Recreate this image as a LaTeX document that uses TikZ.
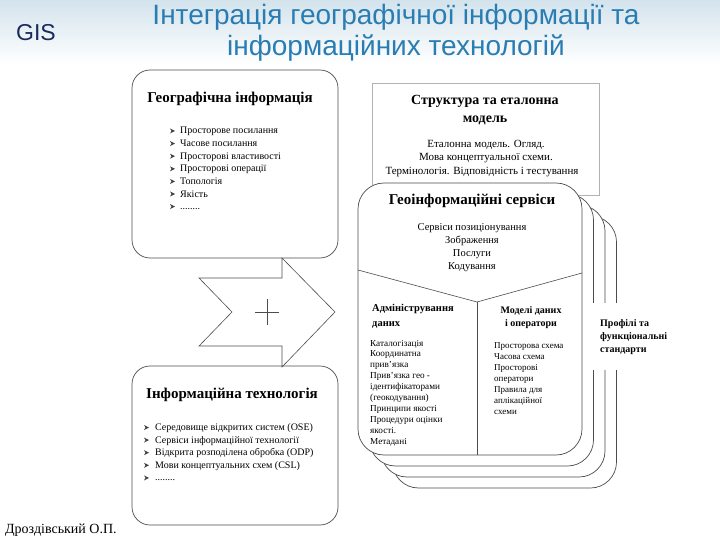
\documentclass[tikz,border=0pt]{standalone}
\usepackage{fontspec}
\setmainfont{Liberation Serif}
\newfontfamily\headfont{Liberation Sans}
\definecolor{hdr}{HTML}{D3E3EC}
\definecolor{titleblue}{HTML}{2A7DB3}
\definecolor{gisnavy}{HTML}{1B2A5C}
\newcommand{\mydots}{........}
\begin{document}
\begin{tikzpicture}[x=1pt,y=-1pt,
  box/.style={draw=black!70, line width=0.7pt, fill=white},
  txt/.style={inner sep=0pt, anchor=base west},
  ctxt/.style={inner sep=0pt, anchor=base},
  bigtitle/.style={ctxt, font=\fontsize{15}{17}\selectfont\bfseries},
  item/.style={txt, font=\fontsize{10}{12}\selectfont},
  small/.style={txt, font=\fontsize{9.2}{10}\selectfont},
  sub/.style={txt, font=\fontsize{10.5}{12}\selectfont\bfseries}]
\useasboundingbox (0,0) rectangle (720,540);
\shade[top color=hdr, bottom color=white] (0,0) rectangle (720,64);
% header
\node[txt, font=\headfont\fontsize{23}{25}\selectfont, text=gisnavy] (gis) at (16,41) {GIS};
\node[ctxt, font=\headfont\fontsize{28}{30}\selectfont, text=titleblue] (t1) at (396,25) {Інтеграція географічної інформації та};
\node[ctxt, font=\headfont\fontsize{28}{30}\selectfont, text=titleblue] (t2) at (396,56) {інформаційних технологій};
% left boxes
\draw[box, rounded corners=18] (132,70) rectangle (338,258);
\draw[box, rounded corners=18] (132,366) rectangle (338,525);
\node[bigtitle] (geo) at (230,103) {Географічна інформація};
\foreach \t [count=\i] in {Просторове посилання, Часове посилання, Просторові властивості, Просторові операції, Топологія, Якість, {\mydots}}{
  \pgfmathsetmacro{\yy}{134+12.6*(\i-1)}
  \fill[black!75] (170,\yy-5.5) -- (175,\yy-3) -- (170,\yy-0.5) -- (171.5,\yy-3) -- cycle;
  \node[item] (gi\i) at (180,\yy) {\t};
}
\node[bigtitle] (it) at (232,398) {Інформаційна технологія};
\foreach \t [count=\i] in {Середовище відкритих систем (OSE), Сервіси інформаційної технології, Відкрита розподілена обробка (ODP), Мови концептуальних схем (CSL), {\mydots}}{
  \pgfmathsetmacro{\yy}{430.5+12.6*(\i-1)}
  \fill[black!75] (144,\yy-5.5) -- (149,\yy-3) -- (144,\yy-0.5) -- (145.5,\yy-3) -- cycle;
  \node[item] (ii\i) at (155,\yy) {\t};
}
% arrow
\draw[black!70, line width=0.6pt] (199,278) -- (282,278) -- (282,258) -- (335,312) -- (282,367) -- (282,346) -- (199,346) -- (232,312) -- cycle;
\draw[black!70, line width=0.6pt] (255,312) -- (279,312) (267,299) -- (267,325);
% structure box
\draw[draw=gray!60, line width=0.8pt, fill=white] (372,83) rectangle (599,195);
\node[ctxt, font=\fontsize{14}{16}\selectfont\bfseries] (st1) at (485,105) {Структура та еталонна};
\node[ctxt, font=\fontsize{14}{16}\selectfont\bfseries] (st2) at (485,123) {модель};
\node[ctxt, font=\fontsize{11}{13}\selectfont] (st3) at (486,147.5) {Еталонна модель. Огляд.};
\node[ctxt, font=\fontsize{11}{13}\selectfont] (st4) at (486,161) {Мова концептуальної схеми.};
\node[ctxt, font=\fontsize{11}{13}\selectfont] (st5) at (482,174.5) {Термінологія. Відповідність і тестування};
% geo services stack
\foreach \i in {3,2,1}
  \draw[box, rounded corners=26] ({358+11.5*\i},{183+11*\i}) rectangle ({582+11.5*\i},{455+11*\i});
\draw[box, rounded corners=26] (358,183) rectangle (582,455);
\draw[black!70, line width=0.6pt] (358,270) -- (477,302) -- (582,273);
\draw[black!70, line width=0.6pt] (477,302) -- (477,455);
\node[bigtitle] (gs) at (472,205) {Геоінформаційні сервіси};
\foreach \t [count=\i] in {Сервіси позиціонування, Зображення, Послуги, Кодування}{
  \pgfmathsetmacro{\yy}{230.5+13*(\i-1)}
  \node[ctxt, font=\fontsize{10.5}{12}\selectfont] (gs\i) at (472,\yy) {\t};
}
\node[sub] (adm1) at (372,311) {Адміністрування};
\node[sub] (adm2) at (372,326) {даних};
\foreach \t [count=\i] in {Каталогізація, Координатна, прив'язка, Прив'язка гео -, ідентифікаторами, (геокодування), Принципи якості, Процедури оцінки, якості., Метадані}{
  \pgfmathsetmacro{\yy}{346+10.9*(\i-1)}
  \node[small] (ad\i) at (370,\yy) {\t};
}
\node[ctxt, font=\fontsize{10}{12}\selectfont\bfseries] (md1) at (531,313) {Моделі даних};
\node[ctxt, font=\fontsize{10}{12}\selectfont\bfseries] (md2) at (531,326) {і оператори};
\foreach \t [count=\i] in {Просторова схема, Часова схема, Просторові, оператори, Правила для, аплікаційної, схеми}{
  \pgfmathsetmacro{\yy}{348.5+11*(\i-1)}
  \node[small, font=\fontsize{9}{10}\selectfont] (mo\i) at (494,\yy) {\t};
}
% profiles label
\fill[white] (587,303) rectangle (622,370);
\node[txt, font=\fontsize{10}{12}\selectfont\bfseries] (pr1) at (600,326) {Профілі та};
\node[txt, font=\fontsize{10}{12}\selectfont\bfseries] (pr2) at (600,339) {функціональні};
\node[txt, font=\fontsize{10}{12}\selectfont\bfseries] (pr3) at (600,352) {стандарти};
% footer
\node[txt, font=\fontsize{14}{16}\selectfont] (au) at (5,533) {Дроздівський О.П.};
\end{tikzpicture}
\end{document}
